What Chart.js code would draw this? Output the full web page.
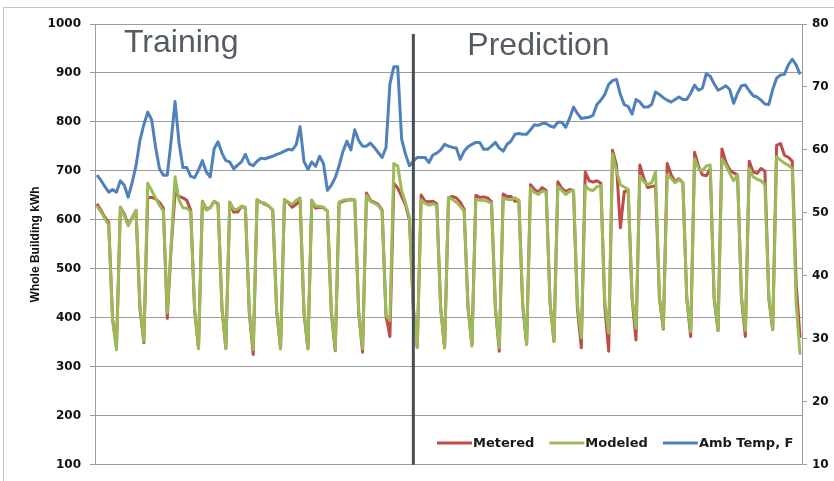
<!DOCTYPE html>
<html>
<head>
<meta charset="utf-8">
<script src="https://cdn.jsdelivr.net/npm/chart.js@4.4.1/dist/chart.umd.min.js"></script>
<style>
  body { margin: 0; background: #fff; }
  #wrap { width: 834px; height: 481px; position: relative; }
</style>
</head>
<body>
<div id="wrap"><canvas id="myChart" width="834" height="481"></canvas></div>
<script>
// daily whole building kWh, metered vs modeled
const metered = [
  633, 620, 606, 595, 398, 340,
  626, 612, 590, 604, 619, 420, 349,
  646, 646, 643, 636, 624, 399, 545,
  655, 648, 645, 640, 620, 415, 338,
  638, 622, 625, 638, 632, 420, 338,
  636, 616, 616, 628, 624, 410, 325,
  641, 636, 632, 628, 620, 415, 337,
  640, 635, 626, 632, 640, 410, 337,
  640, 624, 626, 625, 618, 410, 333,
  635, 638, 640, 641, 640, 410, 330,
  655, 640, 636, 632, 620, 405, 362,
  675, 665, 648, 630, 600, 420, 340,
  651, 638, 637, 638, 633, 420, 339,
  645, 648, 645, 636, 622, 420, 345,
  650, 646, 647, 645, 637, 420, 332,
  653, 648, 648, 638, 640, 425, 346,
  672, 662, 657, 666, 660, 430, 352,
  678, 664, 658, 662, 660, 420, 339,
  698, 680, 677, 680, 675, 425, 332,
  742, 712, 584, 658, 660, 440, 355,
  712, 685, 666, 668, 670, 440, 377,
  715, 692, 678, 684, 676, 440, 362,
  738, 710, 692, 690, 705, 440, 374,
  745, 718, 702, 696, 692, 440, 362,
  720, 698, 695, 705, 700, 440, 376,
  752, 756, 732, 728, 720, 470, 359
];
const modeled = [
  628, 617, 603, 590, 395, 335,
  626, 608, 588, 604, 620, 425, 352,
  675, 660, 645, 630, 618, 410, 550,
  688, 640, 625, 624, 617, 420, 337,
  638, 620, 625, 638, 634, 420, 337,
  636, 622, 622, 628, 626, 415, 335,
  641, 636, 634, 628, 620, 418, 337,
  642, 636, 632, 640, 645, 415, 337,
  640, 628, 628, 626, 618, 415, 334,
  637, 640, 641, 642, 641, 415, 337,
  650, 638, 634, 630, 618, 405, 395,
  715, 710, 660, 635, 605, 420, 339,
  641, 634, 630, 633, 630, 420, 339,
  646, 642, 636, 628, 618, 420, 342,
  642, 640, 640, 638, 634, 422, 339,
  645, 642, 641, 645, 640, 428, 346,
  665, 656, 652, 659, 657, 430, 352,
  668, 660, 652, 658, 660, 430, 359,
  670, 662, 660, 668, 670, 435, 369,
  735, 700, 672, 667, 662, 440, 379,
  690, 678, 672, 676, 698, 440, 379,
  692, 685, 676, 682, 676, 440, 372,
  725, 705, 700, 710, 712, 445, 374,
  725, 712, 695, 680, 692, 445, 374,
  705, 688, 683, 680, 672, 445, 376,
  729, 722, 716, 712, 705, 430, 325
];
// ambient temperature, F (right axis)
const ambTemp = [
  56.0, 55.2, 54.2, 53.3, 53.7, 53.3,
  55.1, 54.4, 52.5, 54.8, 57.5, 61.5, 64.0,
  66.0, 64.8, 60.5, 57.0, 56.0, 56.0, 61.5,
  67.7, 61.2, 57.2, 57.2, 55.8, 55.6, 56.8,
  58.3, 56.5, 55.7, 60.2, 61.3, 59.5, 58.3,
  58.1, 57.0, 57.6, 58.1, 59.3, 57.8, 57.5,
  58.2, 58.7, 58.6, 58.8, 59.0, 59.3, 59.5,
  59.8, 60.1, 60.0, 60.8, 63.7, 58.2, 56.9,
  58.1, 57.4, 59.0, 57.8, 53.6, 54.4, 55.6,
  57.5, 59.8, 61.4, 60.0, 63.2, 61.5, 60.6,
  60.6, 61.1, 60.4, 59.6, 58.8, 60.4, 70.5,
  73.2, 73.2, 61.7, 59.3, 57.5, 58.2, 58.8,
  58.8, 58.8, 58.0, 59.2, 59.5, 60.0, 60.9,
  60.6, 60.4, 60.3, 58.5, 59.8, 60.5, 60.9,
  61.2, 61.2, 60.1, 60.1, 60.6, 61.2, 60.3,
  59.8, 60.9, 61.4, 62.5, 62.6, 62.5, 62.5,
  63.2, 64.0, 63.9, 64.2, 64.2, 63.8, 63.6,
  64.4, 64.4, 63.6, 65.0, 66.8, 65.8, 65.0,
  65.1, 65.2, 65.5, 67.2, 67.9, 68.8, 70.4,
  71.0, 71.2, 68.8, 67.2, 66.9, 65.7, 68.0,
  67.6, 66.8, 66.8, 67.2, 69.2, 68.8, 68.3,
  67.9, 67.6, 68.0, 68.4, 68.0, 68.0, 69.0,
  70.3, 69.5, 69.8, 72.1, 71.7, 70.5, 69.5,
  69.8, 70.2, 69.6, 67.4, 69.0, 70.2, 70.3,
  69.4, 68.6, 68.4, 67.9, 67.3, 67.2, 69.6,
  71.4, 71.9, 72.0, 73.5, 74.4, 73.5, 72.0
];
const seriesNames = ['Metered', 'Modeled', 'Amb Temp, F'];
const seriesColors = ['#be4b48', '#9bbb59', '#4f81bd'];
const phaseLabels = ['Training', 'Prediction'];
const splitIndex = 81; // first day of the prediction period
const kwhTicks = [100, 1000, 100];  // min, max, step
const tempTicks = [10, 80, 10];

const days = metered.map((v, i) => 'Day ' + (i + 1));

const overlay = {
    id: 'overlay',
    beforeDraw(chart) {
        const ctx = chart.ctx;
        ctx.save();
        ctx.fillStyle = '#fff';
        ctx.fillRect(0, 0, chart.width, chart.height);
        ctx.strokeStyle = '#c4c4c4';
        ctx.lineWidth = 1;
        ctx.strokeRect(3.5, 7.5, chart.width + 10, chart.height + 10);
        ctx.restore();
    },
    afterDatasetsDraw(chart) {
        const ctx = chart.ctx;
        const area = chart.chartArea;
        const x = chart.scales.x.getPixelForValue(splitIndex);
        ctx.save();
        ctx.strokeStyle = '#484e56';
        ctx.lineWidth = 3;
        ctx.beginPath();
        ctx.moveTo(x, area.top + 10);
        ctx.lineTo(x, area.bottom);
        ctx.stroke();

        ctx.fillStyle = '#555b62';
        ctx.font = '32px "Liberation Sans", Arial, sans-serif';
        ctx.textBaseline = 'alphabetic';
        ctx.fillText(phaseLabels[0], area.left + 29, 52);
        ctx.fillText(phaseLabels[1], x + 54, 55);
        ctx.restore();
    },
    afterDraw(chart) {
        // legend inside the plot, bottom right
        const ctx = chart.ctx;
        ctx.save();
        ctx.font = 'bold 13px "DejaVu Sans", sans-serif';
        ctx.textBaseline = 'middle';
        let x = 437;
        const y = 443;
        seriesNames.forEach((name, i) => {
            ctx.strokeStyle = seriesColors[i];
            ctx.lineWidth = 3;
            ctx.beginPath();
            ctx.moveTo(x, y);
            ctx.lineTo(x + 35, y);
            ctx.stroke();
            ctx.fillStyle = '#1a1a1a';
            ctx.fillText(name, x + 36, y + 1);
            x += 36 + ctx.measureText(name).width + 15;
        });
        ctx.restore();
    }
};

document.addEventListener('DOMContentLoaded', () => {
    const ctx = document.getElementById('myChart').getContext('2d');
    const tickFont = { family: '"DejaVu Sans", sans-serif', size: 12, weight: 'bold' };
    new Chart(ctx, {
        type: 'line',
        data: {
            labels: days,
            datasets: [
                { label: seriesNames[0], data: metered, borderColor: seriesColors[0], yAxisID: 'y', order: 2 },
                { label: seriesNames[1], data: modeled, borderColor: seriesColors[1], yAxisID: 'y', order: 1 },
                { label: seriesNames[2], data: ambTemp, borderColor: seriesColors[2], yAxisID: 'y1', order: 0 }
            ]
        },
        options: {
            responsive: false,
            animation: false,
            events: [],
            layout: { padding: { top: 24, bottom: 11, left: 0, right: 0 } },
            elements: {
                line: { borderWidth: 3, tension: 0, borderJoinStyle: 'round' },
                point: { radius: 0 }
            },
            plugins: { legend: { display: false }, tooltip: { enabled: false } },
            scales: {
                x: { display: false, offset: true },
                y: {
                    position: 'left',
                    min: kwhTicks[0], max: kwhTicks[1],
                    ticks: {
                        stepSize: kwhTicks[2], color: '#111', font: tickFont, padding: 9,
                        callback: v => String(v)
                    },
                    grid: { color: '#9c9c9c', tickLength: 5 },
                    border: { color: '#9c9c9c' },
                    title: {
                        display: true, text: 'Whole Building kWh', color: '#111',
                        font: { family: '"Liberation Sans", Arial, sans-serif', size: 12, weight: 'bold' },
                        padding: { top: 28, bottom: 0 }
                    },
                    afterFit(scale) { scale.width = 95; }
                },
                y1: {
                    position: 'right',
                    min: tempTicks[0], max: tempTicks[1],
                    ticks: {
                        stepSize: tempTicks[2], color: '#111', font: tickFont, padding: 5,
                        callback: v => String(v)
                    },
                    grid: { drawOnChartArea: false, color: '#9c9c9c', tickLength: 5 },
                    border: { color: '#9c9c9c' },
                    afterFit(scale) { scale.width = 32; }
                }
            }
        },
        plugins: [overlay]
    });
});
</script>
</body>
</html>
